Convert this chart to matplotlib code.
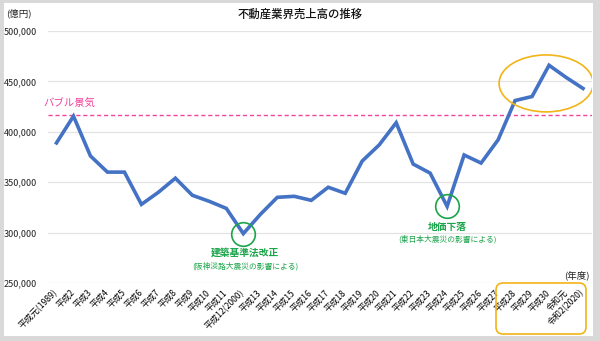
import matplotlib.pyplot as plt
from matplotlib.patches import Ellipse, FancyBboxPatch, Rectangle
from matplotlib.ticker import StrMethodFormatter

plt.rcParams['font.family'] = ['Noto Sans CJK JP', 'DejaVu Sans']

# 年度ラベル
nendo = ['平成元(1989)', '平成2', '平成3', '平成4', '平成5', '平成6', '平成7', '平成8',
         '平成9', '平成10', '平成11', '平成12(2000)', '平成13', '平成14', '平成15',
         '平成16', '平成17', '平成18', '平成19', '平成20', '平成21', '平成22', '平成23',
         '平成24', '平成25', '平成26', '平成27', '平成28', '平成29', '平成30',
         '令和元', '令和2(2020)']
# 売上高(億円)
uriage = [389000, 415500, 376000, 360000, 360000, 328000, 340000, 354000,
          337000, 331000, 324000, 299000, 318000, 335000, 336000, 332000,
          345000, 339000, 371000, 387000, 409000, 368000, 359000, 326000,
          377000, 369000, 392000, 431000, 435000, 466000, 454000, 443000]
bubble = 417000
y_ticks = [250000, 300000, 350000, 400000, 450000, 500000]

azul = '#4472C4'
verde = '#1BA44A'
rosa = '#F0459A'
naranja = '#F2B417'

fig = plt.figure(figsize=(6, 3.41), dpi=100)
fig.patch.set_facecolor('#d9d9d9')
fig.add_artist(Rectangle((0.04, 0.05), 5.89, 3.33, facecolor='white', edgecolor='none',
                         transform=fig.dpi_scale_trans, zorder=0))

ax = fig.add_axes([48 / 600, 1 - 283 / 341, 543.5 / 600, 252 / 341])
ax.set_facecolor('none')
x = list(range(len(nendo)))

ax.plot(x, uriage, color=azul, linewidth=2.6, solid_joinstyle='miter', zorder=3)

ax.set_xlim(-0.5, len(nendo) - 0.5)
ax.set_ylim(250000, 500000)
ax.set_yticks(y_ticks)
ax.yaxis.set_major_formatter(StrMethodFormatter('{x:,.0f}'))
ax.grid(axis='y', color='#e3e3e3', linewidth=0.9)
ax.set_axisbelow(True)
for s in ax.spines.values():
    s.set_visible(False)
ax.tick_params(axis='both', length=0)
ax.tick_params(axis='y', labelsize=6.5, pad=8, labelcolor='#222222')
ax.set_xticks(x)
ax.set_xticklabels(nendo, rotation=45, ha='right', va='center',
                   rotation_mode='anchor', fontsize=6.2)
ax.tick_params(axis='x', pad=6)

# バブル景気
ax.axhline(bubble, color=rosa, linestyle=(0, (3, 2)), linewidth=1.0, zorder=2)
ax.text(-0.8, bubble + 12000, 'バブル景気', color=rosa, fontsize=7.5, ha='left', va='center')

# 注目ポイント
ax.plot([11], [uriage[11]], 'o', mfc='none', mec=verde, ms=17, mew=1.2, zorder=4)
ax.text(11.1, 280000, '建築基準法改正', color=verde, fontsize=7, fontweight='bold',
        ha='center', va='center')
ax.text(11.1, 266000, '(阪神淡路大震災の影響による)', color=verde, fontsize=5.6,
        ha='center', va='center')

ax.plot([23], [uriage[23]], 'o', mfc='none', mec=verde, ms=17, mew=1.2, zorder=4)
ax.text(23, 305500, '地価下落', color=verde, fontsize=7, fontweight='bold',
        ha='center', va='center')
ax.text(23, 293500, '(東日本大震災の影響による)', color=verde, fontsize=5.6,
        ha='center', va='center')

ax.add_patch(Ellipse((28.83, 448000), 5.54, 56500, facecolor='none', edgecolor=naranja,
                     linewidth=1.2, zorder=5))
fig.add_artist(FancyBboxPatch((4.96, 0.07), 0.90, 0.51,
                              boxstyle='round,pad=0,rounding_size=0.07',
                              facecolor='none', edgecolor=naranja, linewidth=1.2,
                              transform=fig.dpi_scale_trans, zorder=5))

fig.text(300 / 600, 1 - 14 / 341, '不動産業界売上高の推移', fontsize=8.2, fontweight='medium',
         ha='center', va='center', color='#111111')
fig.text(6 / 600, 1 - 13 / 341, '(億円)', fontsize=6.8, ha='left', va='center', color='#222222')
fig.text(590 / 600, 1 - 275 / 341, '(年度)', fontsize=6.8, ha='right', va='center', color='#222222')

fig.savefig('out.png', dpi=100, facecolor=fig.get_facecolor())
